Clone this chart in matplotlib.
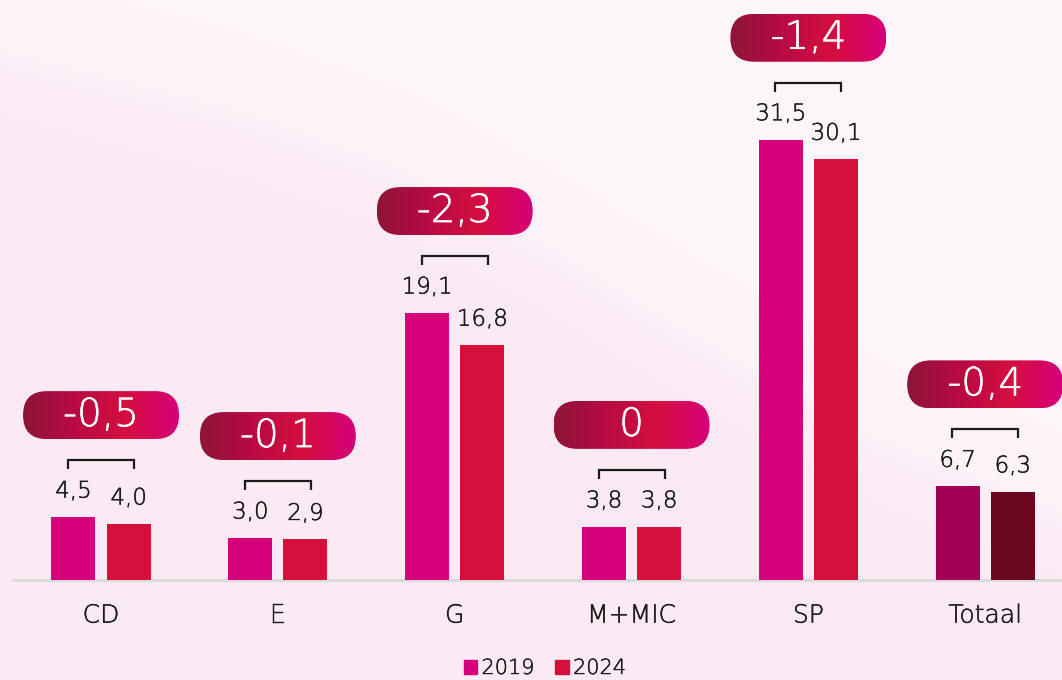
import numpy as np
import matplotlib
matplotlib.use("Agg")
import matplotlib.pyplot as plt
import matplotlib.patheffects as pe
from matplotlib.patches import FancyBboxPatch
from matplotlib.colors import LinearSegmentedColormap

# ---- data ----
categories = ["CD", "E", "G", "M+MIC", "SP", "Totaal"]
values_2019 = [4.5, 3.0, 19.1, 3.8, 31.5, 6.7]
values_2024 = [4.0, 2.9, 16.8, 3.8, 30.1, 6.3]
differences = ["-0,5", "-0,1", "-2,3", "0", "-1,4", "-0,4"]
series_labels = ["2019", "2024"]

def fmt(v):
    return f"{v:.1f}".replace(".", ",")

W, H = 1062, 680
plt.rcParams['font.family'] = ['DejaVu Sans']
FW = 200
TXT = "#1a1a1a"
thick_dark = [pe.withStroke(linewidth=0.3, foreground=TXT)]
thick_white = [pe.withStroke(linewidth=0.4, foreground="white")]
fig = plt.figure(figsize=(W / 100, H / 100), dpi=100)

# ---- background ----
bg = fig.add_axes([0, 0, 1, 1], zorder=-10)
bg.set_axis_off()
xx, yy = np.meshgrid(np.arange(W), np.arange(H))
cx = np.array([0, 237, 406, 542, 677, 880, 1062])
cy = np.array([40, 100, 160, 233, 317, 430, 500])
curve = np.interp(xx[0], cx, cy)
d = yy - curve[None, :]
pink = np.array([251, 234, 244]) / 255
light = np.array([253, 246, 250]) / 255
white = np.array([254, 251, 253]) / 255
t = 1 / (1 + np.exp(-d / 30))
img = light[None, None, :] * (1 - t[..., None]) + pink[None, None, :] * t[..., None]
band = np.exp(-(d / 12) ** 2) * 0.4
img = img * (1 - band[..., None]) + white[None, None, :] * band[..., None]
bg.imshow(img, extent=[0, W, 0, H], origin="upper", aspect="auto")
bg.set_xlim(0, W)
bg.set_ylim(0, H)

# ---- main bars ----
ax = fig.add_axes([12.6 / W, 100 / H, 1061 / W, 580 / H])
ax.patch.set_alpha(0)
x = np.arange(len(categories))
w = 0.249
off = 0.156
c19 = ["#d6007a"] * 5 + ["#a20057"]
c24 = ["#d6103c"] * 5 + ["#6b0820"]
b1 = ax.bar(x - off, values_2019, w, color=c19, zorder=3)
b2 = ax.bar(x + off, values_2024, w, color=c24, zorder=3)
ax.set_xlim(-0.5, len(categories) - 0.5)
ax.set_ylim(0, 41.5)
ax.set_yticks([])
ax.set_xticks(x)
ax.set_xticklabels(categories, fontsize=18, color=TXT, fontweight=FW)
for tl in ax.get_xticklabels():
    tl.set_path_effects(thick_dark)
ax.tick_params(axis="x", length=0, pad=17)
for s in ["top", "right", "left"]:
    ax.spines[s].set_visible(False)
ax.spines["bottom"].set_color("#d9d9d9")
ax.spines["bottom"].set_linewidth(2)

# value labels
for bars, vals in ((b1, values_2019), (b2, values_2024)):
    for r, v in zip(bars, vals):
        ax.annotate(fmt(v), (r.get_x() + r.get_width() / 2, v),
                    xytext=(0, 26), textcoords="offset pixels",
                    ha="center", va="center", fontsize=16.5, color=TXT,
                    fontweight=FW, zorder=4, path_effects=thick_dark)

# ---- overlay for brackets and pills (pixel coordinates) ----
ov = fig.add_axes([0, 0, 1, 1], zorder=5)
ov.set_axis_off()
ov.patch.set_alpha(0)

grad = LinearSegmentedColormap.from_list(
    "pill", ["#8e1538", "#b80a45", "#d50f3f", "#d6007a"])
gimg = np.linspace(0, 1, 256)[None, :]

fig.canvas.draw()
for i in range(len(categories)):
    top = max(values_2019[i], values_2024[i])
    px0, py = ax.transData.transform((x[i] - off, top))
    px1, _ = ax.transData.transform((x[i] + off, top))
    pc = (px0 + px1) / 2
    # bracket
    by = py + 57
    ov.plot([pc - 33, pc - 33, pc + 33, pc + 33], [by - 9, by, by, by - 9],
            color=TXT, lw=1.6, solid_capstyle="butt", solid_joinstyle="miter", zorder=6)
    # pill
    yc = by + 45
    pw, ph = 156, 48
    patch = FancyBboxPatch((pc - pw / 2, yc - ph / 2), pw, ph,
                           boxstyle=f"round,pad=0,rounding_size={ph / 2}",
                           linewidth=0, facecolor="none", zorder=5)
    ov.add_patch(patch)
    im = ov.imshow(gimg, cmap=grad, extent=[pc - pw / 2, pc + pw / 2, yc - ph / 2, yc + ph / 2],
                   aspect="auto", zorder=6)
    im.set_clip_path(patch)
    ov.text(pc, yc, differences[i], ha="center", va="center", color="white",
            fontsize=28, fontweight=FW, zorder=7, path_effects=thick_white)

ov.set_xlim(0, W)
ov.set_ylim(0, H)

# ---- legend ----
handles = [plt.Rectangle((0, 0), 1, 1, color=c19[0]), plt.Rectangle((0, 0), 1, 1, color=c24[0])]
leg = fig.legend(handles, series_labels, loc="center", bbox_to_anchor=(545 / W, 12 / H),
                 ncol=2, frameon=False, prop={"size": 15, "weight": FW},
                 handlelength=0.65, handleheight=0.65,
                 handletextpad=0.2, columnspacing=1.0, labelcolor=TXT)
for tx in leg.get_texts():
    tx.set_path_effects(thick_dark)

fig.savefig("out.png", dpi=100)
